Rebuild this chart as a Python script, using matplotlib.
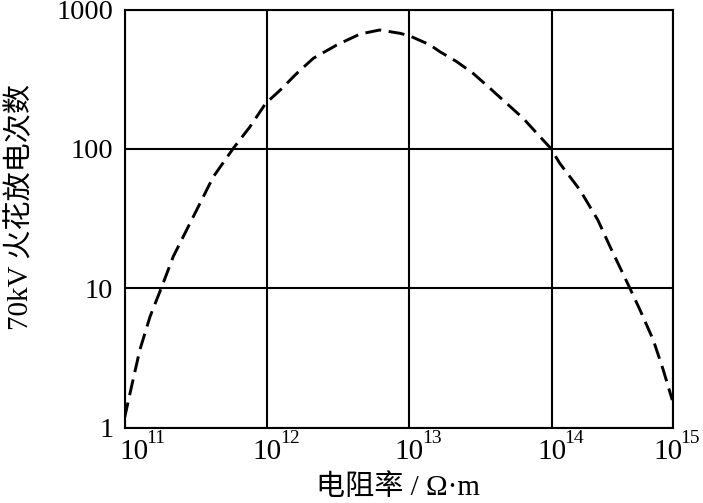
import matplotlib
matplotlib.use("Agg")
import matplotlib.pyplot as plt
import numpy as np

# resistivity (ohm*m) vs number of 70kV spark discharges
resistivity = [1.0e11, 1.12e11, 1.28e11, 1.51e11, 1.85e11, 2.2e11, 2.73e11,
               3.3e11, 4.2e11, 5.81e11, 7.6e11, 9.8e11, 1.24e12, 1.62e12,
               2.12e12, 3.09e12, 4.51e12, 6.2e12, 8.6e12, 1.01e13, 1.40e13,
               1.64e13, 2.15e13, 2.81e13, 3.69e13, 4.83e13, 6.3e13, 8.3e13,
               9.85e13, 1.14e14, 1.58e14, 2.11e14, 2.57e14, 3.45e14, 4.17e14,
               5.17e14, 6.08e14, 7.03e14]
sparks = [1.17, 1.97, 3.6, 6.25, 10.6, 16.9, 26.2, 38.5, 63, 101, 144, 212,
          264, 348, 447, 556, 667, 713, 675, 646, 557, 498, 423, 348, 272,
          212, 166, 122, 101, 78.8, 50.7, 30.9, 19.9, 10.6, 7.0, 4.26, 2.59,
          1.58]

x_exponents = [11, 12, 13, 14, 15]
y_ticks = [1, 10, 100, 1000]
y_ticklabels = ["1", "10", "100", "1000"]
xlabel = "电阻率 / Ω·m"
ylabel = "70kV 火花放电次数"

fonts = ["Liberation Serif", "Noto Sans CJK SC", "DejaVu Sans"]
plt.rcParams["font.family"] = fonts

fig = plt.figure(figsize=(7.03, 5.03), dpi=100)
ax = fig.add_axes([0.1771, 0.1497, 0.7798, 0.8314])

ax.plot(resistivity, sparks, color="k", lw=2.1, dashes=(5.5, 2.6))

ax.set_xscale("log")
ax.set_yscale("log")
x_right = 10 ** 14.85
ax.set_xlim(1e11, x_right)
ax.set_ylim(1, 1000)

# tick positions: last decade label sits on the right edge
x_pos = [10.0 ** e for e in x_exponents[:-1]] + [x_right]
ax.set_xticks(x_pos)
ax.set_xticklabels([])
ax.set_yticks(y_ticks)
ax.set_yticklabels(y_ticklabels, fontsize=20.5)
ax.minorticks_off()
ax.tick_params(length=0)
ax.tick_params(axis="y", pad=8)

ax.grid(True, color="k", lw=1.5)
for s in ax.spines.values():
    s.set_linewidth(1.5)

# first and last labels nudged so they stay inside the figure
shifts = {0: 9, len(x_pos) - 1: -5}
for i, (xp, e) in enumerate(zip(x_pos, x_exponents)):
    shift = shifts.get(i, 0)
    ax.annotate("10", xy=(xp, 0), xycoords=("data", "axes fraction"),
                xytext=(shift * 0.72, -8), textcoords="offset points",
                ha="center", va="top", fontsize=21)
    ax.annotate(str(e), xy=(xp, 0), xycoords=("data", "axes fraction"),
                xytext=((shift + 13) * 0.72, -2), textcoords="offset points",
                ha="left", va="top", fontsize=14)

fig.text(398 / 703, 1 - 488 / 503, xlabel, ha="center", va="center",
         fontsize=21, family=fonts)
fig.text(20 / 703, 1 - 207 / 503, ylabel, ha="center", va="center",
         rotation=90, fontsize=21, family=fonts)

fig.savefig("out.png", dpi=100)
